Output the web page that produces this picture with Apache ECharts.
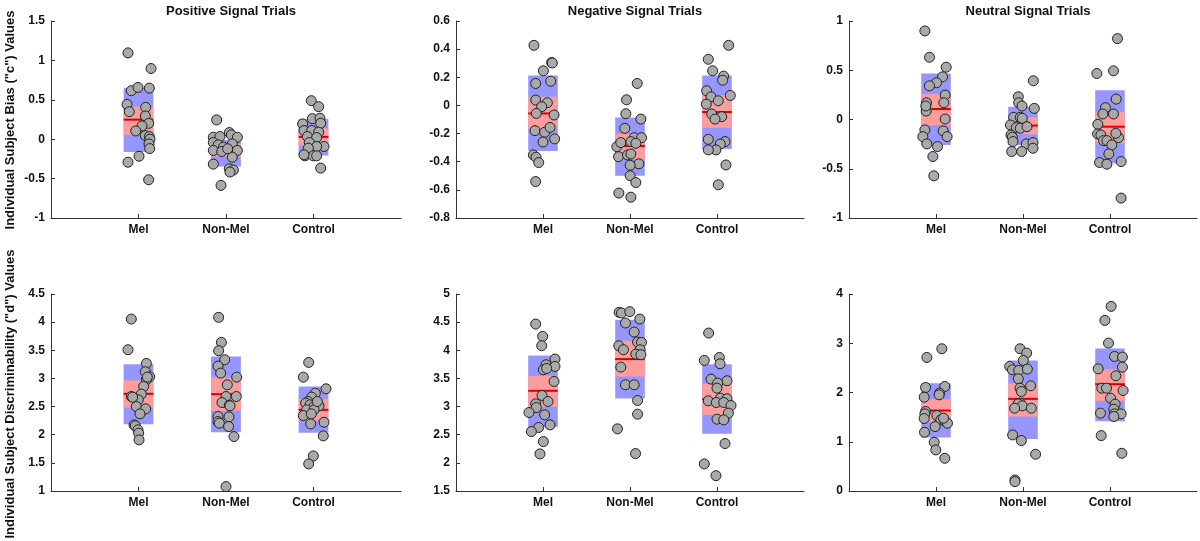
<!DOCTYPE html>
<html>
<head>
<meta charset="utf-8">
<script src="https://cdn.jsdelivr.net/npm/echarts@6/dist/echarts.min.js"></script>
<style>html,body{margin:0;padding:0;background:#fff;}#chart{width:1200px;height:541px;}</style>
</head>
<body>
<div id="chart"></div>
<script>
// ---------- DATA ----------
const groups = ['Mel', 'Non-Mel', 'Control'];
const titles = ['Positive Signal Trials', 'Negative Signal Trials', 'Neutral Signal Trials'];
const yNames = ['Individual Subject Bias ("c") Values', 'Individual Subject Discriminability ("d") Values'];

// y axis ranges [min, max, interval] per panel
const posBiasRange = [-1, 1.5, 0.5];
const negBiasRange = [-0.8, 0.6, 0.2];
const neuBiasRange = [-1, 1, 0.5];
const posDRange = [1, 4.5, 0.5];
const negDRange = [1.5, 5, 0.5];
const neuDRange = [0, 4, 1];

// box stats per group: [outerLow, outerHigh, innerLow, innerHigh, mean]
const posBiasBoxes = [[-0.161, 0.653, 0.054, 0.412, 0.248], [-0.347, -0.009, -0.22, -0.06, -0.144], [-0.207, 0.256, -0.077, 0.138, 0.029]];
const negBiasBoxes = [[-0.323, 0.212, -0.17, 0.061, -0.057], [-0.5, -0.085, -0.382, -0.203, -0.288], [-0.309, 0.212, -0.158, 0.073, -0.047]];
const neuBiasBoxes = [[-0.258, 0.467, -0.059, 0.258, 0.106], [-0.258, 0.13, -0.15, 0.022, -0.062], [-0.444, 0.298, -0.241, 0.079, -0.073]];
const posDBoxes = [[2.187, 3.254, 2.483, 2.964, 2.727], [2.045, 3.391, 2.424, 3.017, 2.721], [2.033, 2.857, 2.252, 2.632, 2.442]];
const negDBoxes = [[2.639, 3.909, 2.995, 3.547, 3.28], [3.144, 4.543, 3.535, 4.17, 3.843], [2.515, 3.754, 2.853, 3.405, 3.132]];
const neuDBoxes = [[1.085, 2.19, 1.403, 1.864, 1.634], [1.058, 2.651, 1.512, 2.19, 1.871], [1.417, 2.895, 1.831, 2.475, 2.169]];

// individual subjects: [jittered group position, value]
const posBiasMel = [[0.88,1.095],[1.143,0.897],[0.918,0.615],[0.994,0.657],[1.124,0.648],[0.869,0.442],[0.895,0.349],[1.082,0.404],[1.078,0.294],[1.116,0.201],[1.04,0.168],[0.968,0.105],[1.078,0.046],[1.124,0.033],[1.131,0.0],[1.12,-0.06],[1.128,-0.119],[1.006,-0.216],[0.88,-0.292],[1.116,-0.515]];
const posBiasNon = [[1.893,0.245],[1.855,0.025],[1.931,0.034],[2.038,0.084],[2.061,0.055],[2.13,0.025],[1.855,-0.042],[1.912,-0.072],[1.97,-0.101],[2.072,-0.059],[1.855,-0.143],[1.952,-0.156],[2.13,-0.143],[2.072,-0.228],[1.855,-0.316],[2.038,-0.375],[2.084,-0.392],[2.046,-0.417],[1.943,-0.586],[2.019,-0.122]];
const posBiasCtl = [[2.975,0.489],[3.059,0.413],[2.876,0.194],[2.987,0.261],[3.074,0.266],[3.082,0.202],[2.891,0.11],[2.979,0.11],[3.059,0.089],[2.93,0.034],[3.036,0.021],[2.952,-0.042],[3.12,-0.093],[3.036,-0.093],[2.941,-0.114],[2.903,-0.211],[2.998,-0.211],[3.036,-0.211],[2.891,-0.198],[3.082,-0.367]];

const negBiasMel = [[0.896,0.427],[1.1,0.305],[1.107,0.302],[1.004,0.246],[0.916,0.156],[1.088,0.172],[0.916,0.038],[1.05,0.019],[0.985,-0.009],[0.923,-0.057],[1.127,-0.068],[0.908,-0.179],[1.019,-0.191],[1.081,-0.156],[1.134,-0.238],[1.0,-0.26],[0.889,-0.352],[0.92,-0.368],[0.951,-0.406],[0.916,-0.541]];
const negBiasNon = [[2.083,0.156],[1.96,0.04],[1.952,-0.059],[2.125,-0.097],[1.94,-0.163],[2.048,-0.229],[2.133,-0.229],[1.849,-0.293],[2.01,-0.257],[2.067,-0.269],[1.894,-0.264],[1.868,-0.364],[1.971,-0.352],[2.01,-0.345],[2.102,-0.415],[2.002,-0.425],[2.002,-0.5],[2.067,-0.548],[1.872,-0.623],[2.01,-0.652]];
const negBiasCtl = [[3.134,0.427],[2.9,0.328],[2.95,0.246],[3.076,0.208],[3.065,0.179],[2.881,0.104],[2.931,0.061],[3.153,0.071],[3.015,0.033],[2.877,0.009],[2.939,-0.061],[3.054,-0.08],[2.977,-0.097],[2.9,-0.241],[3.092,-0.257],[3.038,-0.274],[2.988,-0.316],[2.9,-0.316],[3.103,-0.423],[3.015,-0.564]];

const neuBiasMel = [[0.872,0.899],[0.925,0.632],[1.117,0.531],[1.075,0.433],[1.006,0.373],[0.925,0.342],[1.105,0.248],[0.891,0.17],[1.09,0.17],[0.887,0.086],[1.105,0.005],[0.872,-0.106],[1.082,-0.116],[0.849,-0.174],[1.128,-0.174],[0.895,-0.248],[1.017,-0.275],[0.964,-0.376],[0.975,-0.572],[0.883,0.137]];
const neuBiasNon = [[2.119,0.393],[1.946,0.231],[1.95,0.17],[1.989,0.137],[1.893,0.022],[1.969,0.022],[1.992,0.012],[2.13,0.113],[1.855,-0.056],[1.923,-0.083],[1.969,-0.089],[1.862,-0.157],[1.877,-0.18],[1.885,-0.224],[2.038,-0.248],[2.115,-0.234],[1.87,-0.325],[1.985,-0.325],[2.115,-0.292],[2.046,-0.073]];
const neuBiasCtl = [[3.086,0.821],[2.849,0.467],[3.04,0.494],[3.071,0.207],[2.948,0.12],[3.04,0.056],[2.918,0.056],[2.86,-0.049],[2.857,-0.147],[2.895,-0.157],[2.925,-0.214],[2.964,-0.214],[3.021,-0.258],[2.987,-0.349],[3.098,-0.184],[3.128,-0.427],[2.88,-0.437],[2.964,-0.454],[3.128,-0.798],[3.067,-0.14]];

const posDMel = [[0.918,4.055],[0.88,3.51],[1.09,3.266],[1.078,3.118],[1.128,3.029],[1.09,2.976],[1.059,2.857],[0.918,2.679],[1.032,2.721],[0.998,2.62],[0.975,2.501],[1.082,2.46],[1.017,2.371],[0.949,2.175],[0.964,2.157],[0.994,2.086],[1.002,2.027],[1.006,1.908],[1.101,3.023],[0.933,2.667]];
const posDNon = [[1.916,4.085],[1.947,3.64],[1.916,3.492],[1.985,3.332],[1.909,3.219],[1.939,3.094],[2.122,3.023],[2.015,2.887],[2.0,2.679],[2.118,2.679],[1.954,2.572],[2.038,2.525],[2.046,2.513],[1.909,2.323],[2.034,2.317],[1.909,2.234],[1.924,2.205],[2.03,2.145],[2.091,1.967],[2.0,1.078]];
const posDCtl = [[2.945,3.284],[2.884,3.023],[3.143,2.816],[3.021,2.738],[2.979,2.667],[2.937,2.59],[2.91,2.561],[2.96,2.531],[3.006,2.501],[3.063,2.513],[2.922,2.442],[2.884,2.341],[3.006,2.442],[2.975,2.371],[2.968,2.193],[3.12,2.222],[3.112,1.979],[2.998,1.623],[2.945,1.481],[3.044,2.59]];

const negDMel = [[0.916,4.466],[0.996,4.247],[0.985,4.081],[1.138,3.843],[1.035,3.743],[1.138,3.713],[1.004,3.654],[1.127,3.446],[0.989,3.197],[1.058,3.09],[0.916,3.049],[0.923,2.983],[0.839,2.894],[1.019,2.853],[1.081,2.675],[0.95,2.628],[0.866,2.556],[1.004,2.378],[0.965,2.159],[1.042,3.677]];
const negDNon = [[1.875,4.674],[1.902,4.662],[1.998,4.686],[2.113,4.555],[1.948,4.484],[2.048,4.324],[1.871,4.081],[1.925,4.01],[2.087,4.146],[2.132,4.14],[2.117,4.01],[2.067,3.932],[2.125,3.921],[1.894,3.701],[1.948,3.387],[2.048,3.387],[2.087,3.108],[2.087,2.865],[1.856,2.604],[2.064,2.165]];
const negDCtl = [[2.904,4.306],[3.027,3.873],[2.854,3.82],[3.035,3.76],[2.931,3.488],[3.115,3.458],[3.008,3.416],[3.0,3.327],[3.039,3.149],[3.115,3.138],[2.9,3.102],[2.992,3.072],[3.077,3.072],[3.161,3.019],[3.131,2.883],[3.0,2.776],[3.077,2.764],[3.092,2.343],[2.854,1.981],[2.988,1.773]];

const neuDMel = [[1.067,2.888],[0.895,2.712],[0.88,2.102],[1.101,2.122],[1.04,1.986],[0.864,1.905],[0.88,1.614],[0.872,1.566],[0.864,1.471],[1.01,1.532],[1.055,1.444],[1.101,1.424],[1.132,1.376],[1.086,1.478],[0.99,1.308],[0.868,1.193],[0.979,0.99],[0.998,0.834],[1.101,0.664],[1.036,1.953]];
const neuDNon = [[1.966,2.888],[2.042,2.8],[2.004,2.651],[1.847,2.529],[1.878,2.461],[1.95,2.447],[2.05,2.475],[1.946,2.278],[2.088,2.136],[1.966,2.088],[1.981,2.02],[1.966,1.783],[1.943,1.769],[1.992,1.729],[1.904,1.681],[2.096,1.681],[1.881,1.139],[1.981,1.024],[2.145,0.746],[1.908,0.224],[1.908,0.19]];
const neuDCtl = [[3.013,3.749],[2.941,3.464],[2.983,3.003],[3.052,2.732],[3.143,2.719],[2.864,2.481],[3.143,2.515],[3.067,2.339],[2.906,2.088],[2.96,2.088],[3.151,2.041],[3.006,1.885],[3.059,1.763],[3.044,1.661],[3.052,1.566],[2.891,1.58],[3.128,1.566],[2.899,1.125],[3.136,0.766],[3.044,1.512]];

// ---------- LAYOUT / STYLE ----------
const panels = [
  { range: posBiasRange, boxes: posBiasBoxes, pts: [posBiasMel, posBiasNon, posBiasCtl] },
  { range: negBiasRange, boxes: negBiasBoxes, pts: [negBiasMel, negBiasNon, negBiasCtl] },
  { range: neuBiasRange, boxes: neuBiasBoxes, pts: [neuBiasMel, neuBiasNon, neuBiasCtl] },
  { range: posDRange, boxes: posDBoxes, pts: [posDMel, posDNon, posDCtl] },
  { range: negDRange, boxes: negDBoxes, pts: [negDMel, negDNon, negDCtl] },
  { range: neuDRange, boxes: neuDBoxes, pts: [neuDMel, neuDNon, neuDCtl] }
];
const colLeft = [51, 456, 849];
const colWidth = [350, 348, 348];
const rowTop = [21, 294];
const rowHeight = [197, 197];
const FONT = '"Liberation Sans", Arial, sans-serif';
const BLUE = '#9696ff', PINK = '#ff9c9c', RED = '#dd0000';
const HALF = 0.17;

const grid = [], xAxis = [], yAxis = [], series = [], title = [];
panels.forEach((p, i) => {
  const r = Math.floor(i / 3), c = i % 3;
  grid.push({ left: colLeft[c], top: rowTop[r], width: colWidth[c], height: rowHeight[r], containLabel: false });
  xAxis.push({
    gridIndex: i, type: 'value', min: 0, max: 4, interval: 1,
    splitLine: { show: false },
    axisLine: { show: true, onZero: false, lineStyle: { color: '#333', width: 1 } },
    axisTick: { show: true, inside: true, length: 4, customValues: [1, 2, 3], lineStyle: { color: '#333' } },
    axisLabel: { show: true, customValues: [1, 2, 3], margin: 6, color: '#111', fontFamily: FONT, fontSize: 12, fontWeight: 'bold',
      formatter: v => groups[Math.round(v) - 1] || '' }
  });
  yAxis.push({
    gridIndex: i, type: 'value', min: p.range[0], max: p.range[1], interval: p.range[2],
    splitLine: { show: false },
    axisLine: { show: true, onZero: false, lineStyle: { color: '#333', width: 1 } },
    axisTick: { show: true, inside: true, length: 4, lineStyle: { color: '#333' } },
    axisLabel: { margin: 6, color: '#111', fontFamily: FONT, fontSize: 12, fontWeight: 'bold' }
  });
  if (r === 0) {
    title.push({ text: titles[c], left: colLeft[c] + colWidth[c] / 2, top: 0, textAlign: 'center',
      textStyle: { fontFamily: FONT, fontSize: 13, fontWeight: 'bold', color: '#111' } });
  }
  series.push({
    type: 'custom', xAxisIndex: i, yAxisIndex: i, z: 1,
    data: p.boxes.map((b, g) => [g + 1, b[0], b[1], b[2], b[3], b[4]]),
    encode: { x: 0, y: [1, 2, 3, 4, 5] },
    renderItem: (params, api) => {
      const x = api.value(0);
      const o1 = api.coord([x - HALF, api.value(2)]), o2 = api.coord([x + HALF, api.value(1)]);
      const i1 = api.coord([x - HALF, api.value(4)]), i2 = api.coord([x + HALF, api.value(3)]);
      const m1 = api.coord([x - HALF, api.value(5)]), m2 = api.coord([x + HALF, api.value(5)]);
      return { type: 'group', children: [
        { type: 'rect', shape: { x: o1[0], y: o1[1], width: o2[0] - o1[0], height: o2[1] - o1[1] }, style: { fill: BLUE } },
        { type: 'rect', shape: { x: i1[0], y: i1[1], width: i2[0] - i1[0], height: i2[1] - i1[1] }, style: { fill: PINK } },
        { type: 'line', shape: { x1: m1[0], y1: m1[1], x2: m2[0], y2: m2[1] }, style: { stroke: RED, lineWidth: 2 } }
      ] };
    }
  });
  p.pts.forEach(pts => {
    series.push({
      type: 'scatter', xAxisIndex: i, yAxisIndex: i, z: 3, data: pts, symbol: 'circle', symbolSize: 10,
      itemStyle: { color: '#a9a9a9', borderColor: '#222', borderWidth: 1, opacity: 1 },
      emphasis: { disabled: true }
    });
  });
});

const chart = echarts.init(document.getElementById('chart'), null, { renderer: 'canvas' });
chart.setOption({
  animation: false,
  backgroundColor: '#fff',
  title, grid, xAxis, yAxis, series,
  graphic: [
    { type: 'text', x: 10, y: 120, rotation: Math.PI / 2,
      style: { text: yNames[0], fontFamily: FONT, fontSize: 13, fontWeight: 'bold', fill: '#111', align: 'center', verticalAlign: 'middle' } },
    { type: 'text', x: 10, y: 394, rotation: Math.PI / 2,
      style: { text: yNames[1], fontFamily: FONT, fontSize: 13, fontWeight: 'bold', fill: '#111', align: 'center', verticalAlign: 'middle' } }
  ]
});
</script>
</body>
</html>
